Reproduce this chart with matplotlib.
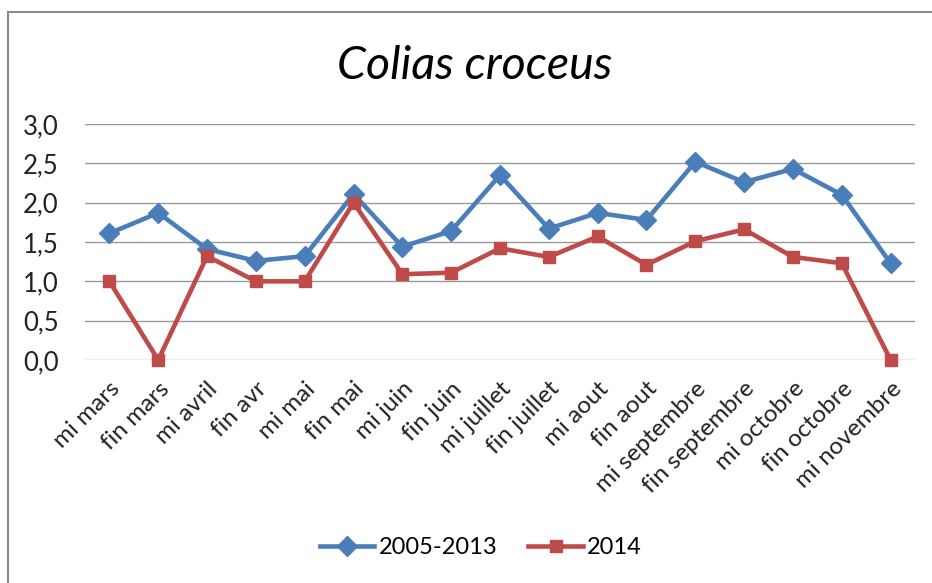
import matplotlib
matplotlib.use("Agg")
import matplotlib.pyplot as plt
from matplotlib.patches import Rectangle

# periods on the x axis
periods = ["mi mars", "fin mars", "mi avril", "fin avr", "mi mai", "fin mai",
           "mi juin", "fin juin", "mi juillet", "fin juillet", "mi aout", "fin aout",
           "mi septembre", "fin septembre", "mi octobre", "fin octobre", "mi novembre"]

# mean values 2005-2013
moy_2005_2013 = [1.61, 1.87, 1.41, 1.26, 1.32, 2.11, 1.44, 1.64, 2.35, 1.67,
                 1.87, 1.78, 2.52, 2.26, 2.43, 2.10, 1.23]

# values 2014
val_2014 = [1.0, 0.0, 1.32, 1.0, 1.0, 2.0, 1.09, 1.11, 1.42, 1.31,
            1.57, 1.21, 1.51, 1.66, 1.31, 1.23, 0.0]

y_ticks = [0.0, 0.5, 1.0, 1.5, 2.0, 2.5, 3.0]

plt.rcParams['font.family'] = ['Lato', 'DejaVu Sans']

fig = plt.figure(figsize=(9.32, 5.83), dpi=100)
fig.patches.append(Rectangle((8 / 932, -0.1), 1.2, (583 - 12) / 583 + 0.1,
                             transform=fig.transFigure, fill=False,
                             edgecolor="#8c8c8c", linewidth=1.5))

ax = fig.add_axes([85 / 932, (583 - 360) / 583, 830 / 932, 236 / 583])

x = list(range(len(periods)))
ax.plot(x, moy_2005_2013, color="#4A7EBB", linewidth=3.3, marker="D", markersize=10,
        label="2005-2013", zorder=3)
ax.plot(x, val_2014, color="#BE4B48", linewidth=3.3, marker="s", markersize=9,
        label="2014", zorder=3, clip_on=False)

ax.set_xlim(-0.5, len(periods) - 0.5)
ax.set_ylim(0, 3)
ax.set_yticks(y_ticks)
ax.set_yticklabels([f"{v:.1f}".replace(".", ",") for v in y_ticks], fontsize=18.5)
ax.set_xticks(x)
ax.set_xticklabels(periods, rotation=45, ha="right", va="top",
                   rotation_mode="anchor", fontsize=17.5)
ax.tick_params(axis="both", length=0, colors="#222222")
ax.tick_params(axis="x", pad=13)
ax.tick_params(axis="y", pad=19)
ax.grid(axis="y", color="#999999", linewidth=1)
ax.set_axisbelow(True)
for s in ax.spines.values():
    s.set_visible(False)

fig.text(475 / 932, 1 - 66 / 583, "Colias croceus", fontsize=33.5, style="italic",
         ha="center", va="center")

fig.legend(loc="center", bbox_to_anchor=(481 / 932, 1 - 548 / 583), ncol=2,
           frameon=False, fontsize=17, handlelength=2.3, columnspacing=1.3,
           handletextpad=0.2)

fig.savefig("out.png", dpi=100)
